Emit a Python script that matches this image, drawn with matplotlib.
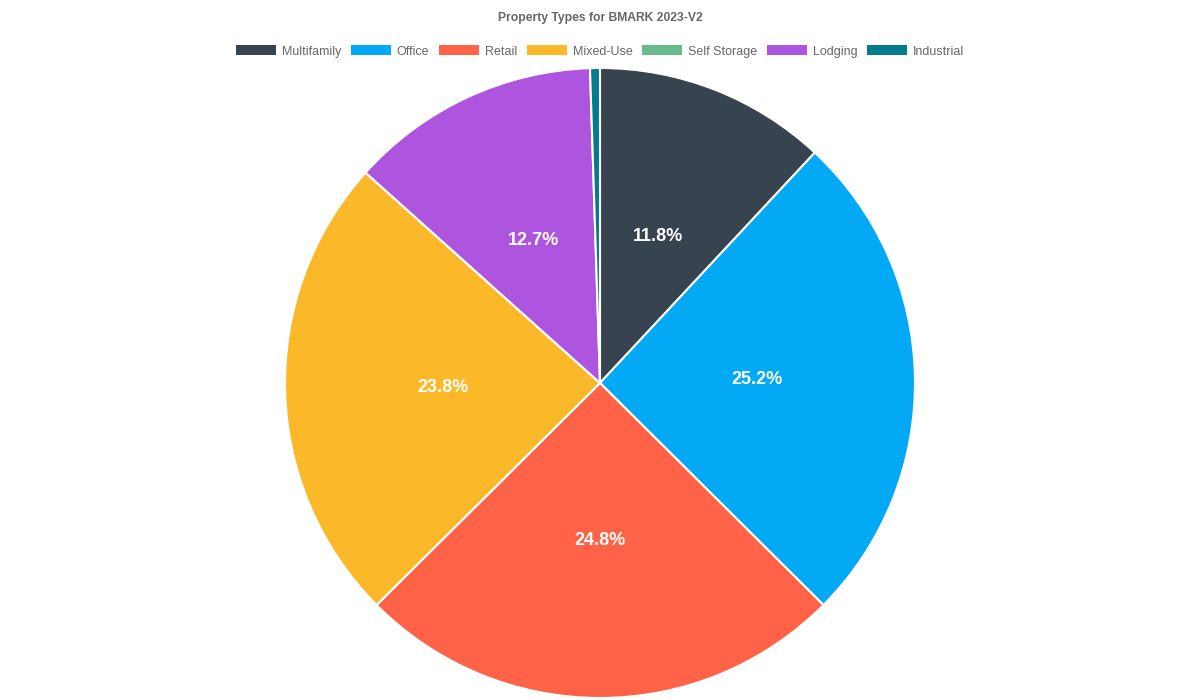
import matplotlib
matplotlib.use('Agg')
import matplotlib.pyplot as plt
from matplotlib.patches import Patch

plt.rcParams['font.family'] = ['Liberation Sans', 'DejaVu Sans']

labels = ['Multifamily', 'Office', 'Retail', 'Mixed-Use', 'Self Storage', 'Lodging', 'Industrial']
values = [11.8, 25.2, 24.8, 23.8, 0.0, 12.7, 0.5]
colors = ['#37434f', '#03a9f4', '#ff6347', '#fbb829', '#66bb8c', '#ae55e0', '#037b8f']

fig = plt.figure(figsize=(12, 7), dpi=100)
ax = fig.add_axes([285 / 1200, 2 / 700, 630 / 1200, 630 / 700])

wedges, texts = ax.pie(values, colors=colors, startangle=90, counterclock=False,
                       labels=[f'{v:.1f}%' if v >= 5 else '' for v in values],
                       labeldistance=0.5, radius=1,
                       wedgeprops=dict(edgecolor='white', linewidth=1.5),
                       textprops=dict(color='white', fontsize=13, fontweight='bold'))
for t in texts:
    t.set_ha('center')
    t.set_va('center')
ax.set_xlim(-1, 1)
ax.set_ylim(-1, 1)
ax.set_aspect('equal')

fig.text(0.5, 1 - 18 / 700, 'Property Types for BMARK 2023-V2', ha='center', va='center',
         fontsize=8.75, fontweight='bold', color='#666666')

handles = [Patch(facecolor=c, edgecolor='none') for c in colors]
fig.legend(handles, labels, loc='center', bbox_to_anchor=(0.5, 1 - 51.5 / 700), ncol=7,
           frameon=False, fontsize=9, labelcolor='#666666', handlelength=3.2,
           handleheight=0.8, handletextpad=0.5, columnspacing=0.75)

fig.savefig('out.png', dpi=100)
